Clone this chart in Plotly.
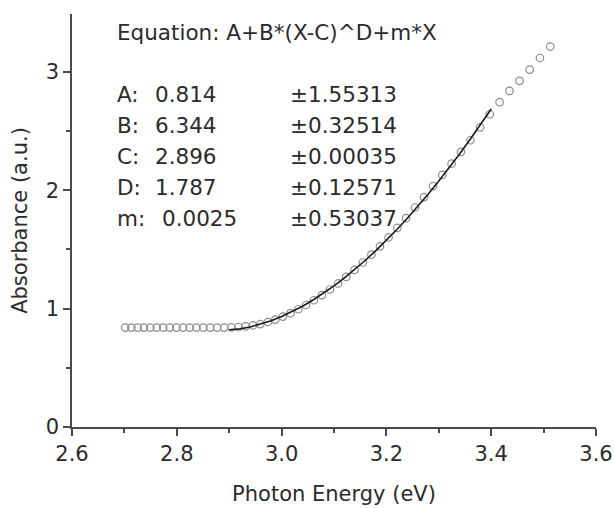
import plotly.graph_objects as go

# Measured data (photon energy in eV, absorbance in a.u.)
energy = [2.7015, 2.7133, 2.7253, 2.7373, 2.7494, 2.7617, 2.7740, 2.7865, 2.7991,
          2.8118, 2.8246, 2.8375, 2.8506, 2.8637, 2.8770, 2.8904, 2.9040, 2.9176,
          2.9314, 2.9454, 2.9594, 2.9736, 2.9880, 3.0024, 3.0170, 3.0318, 3.0467,
          3.0617, 3.0769, 3.0923, 3.1078, 3.1234, 3.1392, 3.1552, 3.1714, 3.1877,
          3.2041, 3.2208, 3.2376, 3.2546, 3.2718, 3.2891, 3.3067, 3.3244, 3.3423,
          3.3604, 3.3787, 3.3973, 3.4160, 3.4349, 3.4540, 3.4734, 3.4930, 3.5127]
absorbance = [0.84, 0.84, 0.84, 0.84, 0.84, 0.84, 0.84, 0.84, 0.84,
              0.84, 0.84, 0.84, 0.84, 0.84, 0.84, 0.84, 0.842, 0.845,
              0.850, 0.858, 0.870, 0.887, 0.908, 0.933, 0.962, 0.995, 1.031,
              1.071, 1.115, 1.162, 1.213, 1.268, 1.327, 1.390, 1.456, 1.527,
              1.602, 1.682, 1.765, 1.855, 1.943, 2.036, 2.130, 2.225, 2.325,
              2.423, 2.532, 2.643, 2.745, 2.840, 2.925, 3.020, 3.118, 3.215]

# Fitted curve
fit_x = [2.90, 2.92, 2.94, 2.96, 2.98, 3.00, 3.02, 3.04, 3.06, 3.08, 3.10, 3.12, 3.14,
         3.16, 3.18, 3.20, 3.22, 3.24, 3.26, 3.28, 3.30, 3.32, 3.34, 3.36, 3.38, 3.40]
fit_y = [0.822, 0.829, 0.845, 0.868, 0.897, 0.933, 0.974, 1.020, 1.073, 1.130, 1.192,
         1.260, 1.332, 1.409, 1.491, 1.578, 1.669, 1.764, 1.865, 1.969, 2.078, 2.191,
         2.309, 2.431, 2.557, 2.687]

x_ticks = [2.6, 2.8, 3.0, 3.2, 3.4, 3.6]
x_tick_labels = ["2.6", "2.8", "3.0", "3.2", "3.4", "3.6"]
y_ticks = [0, 1, 2, 3]
y_tick_labels = ["0", "1", "2", "3"]

equation = "Equation: A+B*(X-C)^D+m*X"
param_names = ["A:", "B:", "C:", "D:", "m:"]
param_values = ["0.814", "6.344", "2.896", "1.787", "0.0025"]
param_errors = ["±1.55313", "±0.32514", "±0.00035", "±0.12571", "±0.53037"]

FONT = "DejaVu Sans"
TXT = "#2b2b2b"
AX = "#4a4a4a"
FS = 21
FA = 21.5

fig = go.Figure()
fig.add_trace(go.Scatter(
    x=energy, y=absorbance, mode="markers",
    marker=dict(symbol="circle-open", size=7.5, color="#8c8c8c", line=dict(width=1.2)),
    showlegend=False))
fig.add_trace(go.Scatter(
    x=fit_x, y=fit_y, mode="lines", line=dict(color="#1a1a1a", width=1.6),
    showlegend=False))

W, H = 614, 508
L, R, T, B = 72, 18, 14, 81
pw, ph = W - L - R, H - T - B

def px(xp):
    return (xp - L) / pw

def py(yp):
    return (H - B - yp) / ph

annotations = [dict(text=equation, x=px(115), y=py(32), xref="paper", yref="paper",
                    xanchor="left", yanchor="middle", showarrow=False,
                    font=dict(family=FONT, size=FA, color=TXT))]
row0, step = 94, 31
for i, (n, v, e) in enumerate(zip(param_names, param_values, param_errors)):
    yy = py(row0 + i * step)
    vx = 160 if n == "m:" else 153
    for t, xx in ((n, 115), (v, vx), (e, 288)):
        annotations.append(dict(text=t, x=px(xx), y=yy, xref="paper", yref="paper",
                                xanchor="left", yanchor="middle", showarrow=False,
                                font=dict(family=FONT, size=FA, color=TXT)))

fig.update_layout(
    width=W, height=H,
    margin=dict(l=L, r=R, t=T, b=B),
    paper_bgcolor="white", plot_bgcolor="white",
    font=dict(family=FONT, size=FS, color=TXT),
    annotations=annotations,
    xaxis=dict(range=[2.6, 3.6], tickvals=x_ticks, ticktext=x_tick_labels,
               automargin=False,
               showgrid=False, zeroline=False, showline=True, linecolor=AX, linewidth=1.6,
               ticks="outside", ticklen=7, tickwidth=1.6, tickcolor=AX,
               minor=dict(dtick=0.1, ticks="outside", ticklen=4, tickwidth=1.6, tickcolor=AX),
               title=dict(text="Photon Energy (eV)", standoff=21,
                          font=dict(family=FONT, size=FS, color=TXT)),
               tickfont=dict(family=FONT, size=FS, color=TXT)),
    yaxis=dict(range=[0, 3.49], tickvals=y_ticks, ticktext=y_tick_labels,
               automargin=False,
               showgrid=False, zeroline=False, showline=True, linecolor=AX, linewidth=1.6,
               ticks="outside", ticklen=7, tickwidth=1.6, tickcolor=AX,
               minor=dict(dtick=0.5, ticks="outside", ticklen=4, tickwidth=1.6, tickcolor=AX),
               title=dict(text="Absorbance (a.u.)", standoff=12,
                          font=dict(family=FONT, size=FS, color=TXT)),
               tickfont=dict(family=FONT, size=FS, color=TXT)),
)

fig.write_html("out.html")
